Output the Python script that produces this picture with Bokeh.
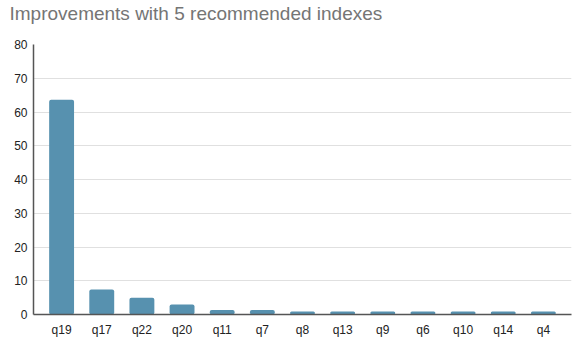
from bokeh.plotting import figure
from bokeh.models import ColumnDataSource, FixedTicker, Title
from bokeh.embed import file_html
from bokeh.resources import INLINE

title_text = "Improvements with 5 recommended indexes"
queries = ["q19", "q17", "q22", "q20", "q11", "q7", "q8", "q13", "q9", "q6", "q10", "q14", "q4"]
improvements = [63.6, 7.4, 5.0, 3.0, 1.3, 1.3, 0.9, 0.9, 0.9, 0.9, 0.9, 0.9, 0.9]
y_ticks = [0, 10, 20, 30, 40, 50, 60, 70, 80]

source = ColumnDataSource(data=dict(q=queries, v=improvements))

p = figure(x_range=queries, y_range=(0, 80), width=587, height=343,
           output_backend="svg", toolbar_location=None,
           min_border_left=33, min_border_right=16, min_border_bottom=29, min_border_top=0)

p.vbar(x="q", top="v", width=0.62, source=source, color="#5791AF",
       line_color=None, border_radius=2)

spacer = Title(text=" ", text_font_size="1px", standoff=13)
main_title = Title(text=title_text, text_font="Liberation Sans", text_font_size="19px",
                   text_font_style="normal", text_color="#757575", align="left",
                   vertical_align="top", offset=-24, standoff=5.4)
p.add_layout(spacer, "above")
p.add_layout(main_title, "above")

p.outline_line_color = None
p.xgrid.grid_line_color = None
p.ygrid.grid_line_color = "#e0e0e0"
p.ygrid.grid_line_width = 1

p.yaxis.ticker = FixedTicker(ticks=y_ticks)
for ax in (p.xaxis, p.yaxis):
    ax.major_tick_line_color = None
    ax.minor_tick_line_color = None
    ax.major_tick_out = 0
    ax.major_tick_in = 0
    ax.minor_tick_out = 0
    ax.axis_line_color = "#555555"
    ax.axis_line_width = 1.5
    ax.major_label_text_font = "Liberation Sans"
    ax.major_label_text_font_size = "12px"
    ax.major_label_text_color = "#222222"
p.yaxis.major_label_standoff = 6
p.xaxis.major_label_standoff = 8
p.x_range.range_padding = 0.2
p.x_range.range_padding_units = "absolute"

open("out.html", "w").write(file_html(p, INLINE))
